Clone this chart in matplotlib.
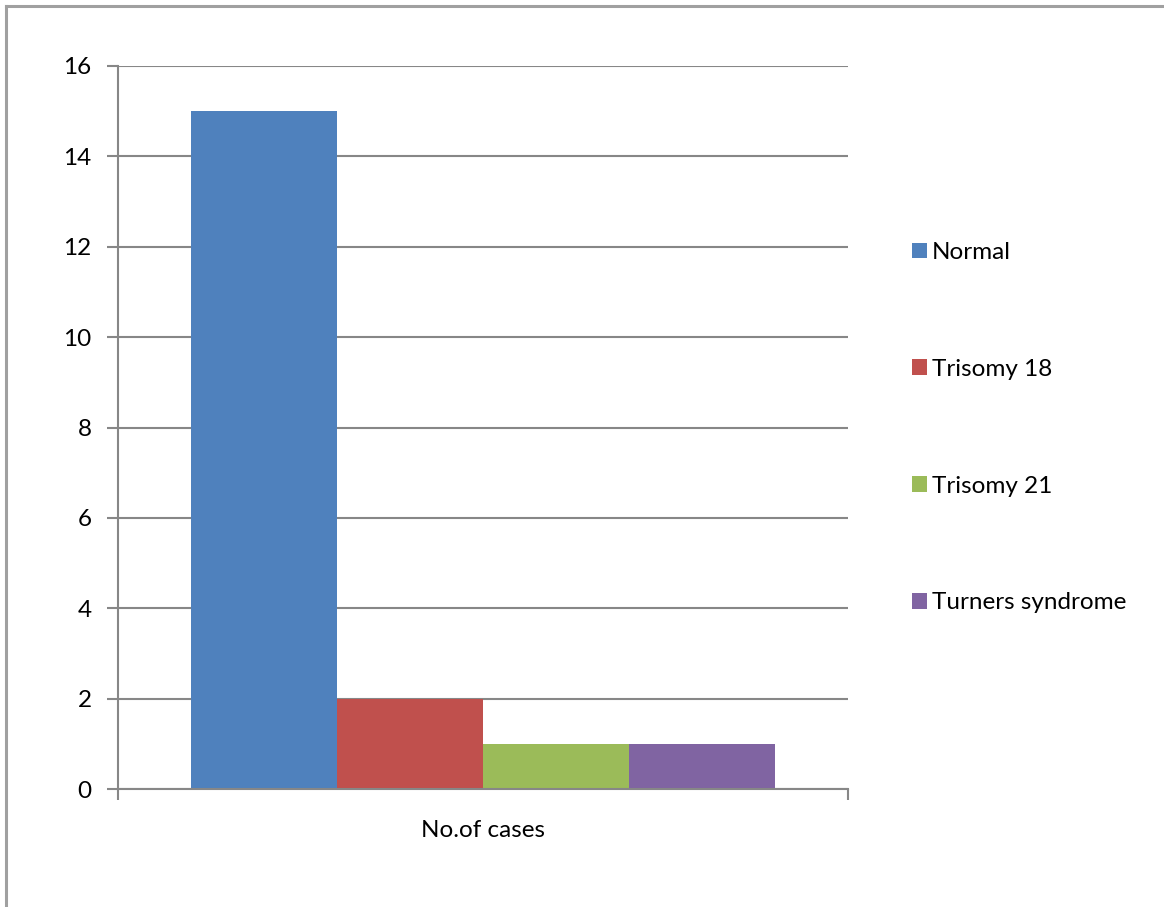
import matplotlib
matplotlib.use("Agg")
import matplotlib.pyplot as plt
from matplotlib.lines import Line2D
from matplotlib.patches import Patch

categories = ["Normal", "Trisomy 18", "Trisomy 21", "Turners syndrome"]
values = [15, 2, 1, 1]
colors = ["#4F81BD", "#C0504D", "#9BBB59", "#8064A2"]
group_label = "No.of cases"
yticks = [0, 2, 4, 6, 8, 10, 12, 14, 16]

plt.rcParams['font.family'] = ['Lato', 'DejaVu Sans']

W, H = 1164, 907
fig = plt.figure(figsize=(W/100, H/100), dpi=100)

# axes placement in pixels
L, R, T, B = 118, 848, 66, 789
ax = fig.add_axes([L/W, 1 - B/H, (R-L)/W, (B-T)/H])

n = len(values)
total = 0.8
bw = total / n
start = 0.5 - total/2
for i, (cat, v, c) in enumerate(zip(categories, values, colors)):
    ax.bar(start + bw*i + bw/2, v, width=bw, color=c, label=cat, zorder=3)

FS = 17.5
ax.set_xlim(0, 1)
ax.set_ylim(0, 16)
ax.set_yticks(yticks)
ax.set_yticklabels([str(t) for t in yticks], fontsize=FS)
ax.set_xticks([0, 1])
ax.set_xticklabels(["", ""])
ax.tick_params(axis='both', length=8, width=1.5, color='#878787', pad=10)
ax.tick_params(axis='y', pad=11)
ax.yaxis.grid(True, color='#878787', linewidth=1.5, zorder=0)
ax.set_axisbelow(True)
for s in ['top', 'right']:
    ax.spines[s].set_visible(False)
for s in ['left', 'bottom']:
    ax.spines[s].set_color('#878787')
    ax.spines[s].set_linewidth(1.5)
    ax.spines[s].set_zorder(4)

ax.text(0.5, -0.058, group_label, transform=ax.transAxes, ha='center', va='center', fontsize=FS)

# legend
handles = [Patch(facecolor=c, label=cat) for cat, c in zip(categories, colors)]
leg = fig.legend(handles=handles, loc='upper left',
                 bbox_to_anchor=(900/W, 1 - 230/H), frameon=False, fontsize=FS,
                 handlelength=0.62, handleheight=0.62, handletextpad=0.2,
                 labelspacing=3.94, borderpad=0)

# figure border (left and top)
fig.add_artist(Line2D([6/W, 6/W], [0, 1 - 6/H], color='#A0A0A0', linewidth=2.2, transform=fig.transFigure))
fig.add_artist(Line2D([6/W, 1], [1 - 6/H, 1 - 6/H], color='#A0A0A0', linewidth=2.2, transform=fig.transFigure))

fig.savefig("out.png", dpi=100)
